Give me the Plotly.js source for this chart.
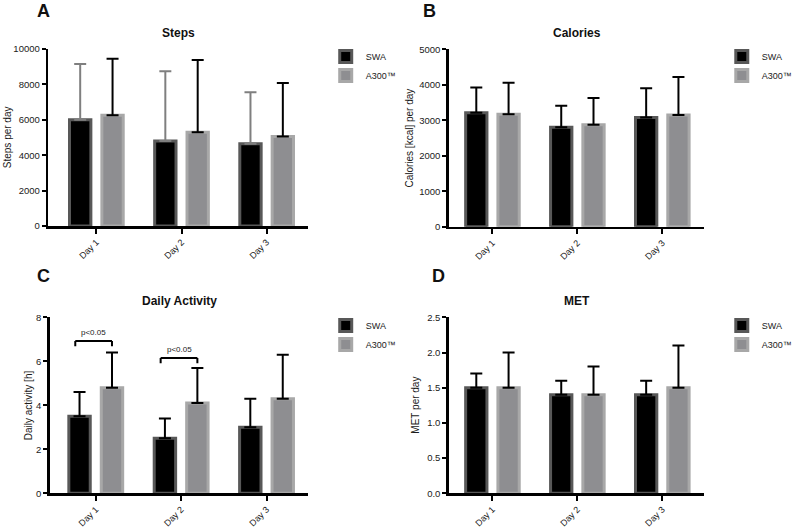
<!DOCTYPE html>
<html>
<head>
<meta charset="utf-8">
<script src="https://cdn.plot.ly/plotly-3.0.1.min.js"></script>
<style>html,body{margin:0;padding:0;background:#fff;}#chart{width:798px;height:527px;}</style>
</head>
<body>
<div id="chart"></div>
<script>
// ---------- data ----------
const days = ['Day 1', 'Day 2', 'Day 3'];
const seriesNames = ['SWA', 'A300™'];

const stepsSWA = [6000, 4800, 4650];
const stepsSWAsd = [3150, 3950, 2900];
const stepsA300 = [6250, 5300, 5050];
const stepsA300sd = [3200, 4080, 3030];

const calSWA = [3210, 2800, 3080];
const calSWAsd = [710, 610, 820];
const calA300 = [3170, 2870, 3150];
const calA300sd = [890, 760, 1070];

const actSWA = [3.5, 2.5, 3.0];
const actSWAsd = [1.1, 0.9, 1.3];
const actA300 = [4.8, 4.1, 4.3];
const actA300sd = [1.6, 1.6, 2.0];

const metSWA = [1.5, 1.4, 1.4];
const metSWAsd = [0.2, 0.2, 0.2];
const metA300 = [1.5, 1.4, 1.5];
const metA300sd = [0.5, 0.4, 0.6];

const panelTitles = ['Steps', 'Calories', 'Daily Activity', 'MET'];
const panelLetters = ['A', 'B', 'C', 'D'];
const yTitles = ['Steps per day', 'Calories [kcal] per day', 'Daily activity [h]', 'MET per day'];
const yTicks = [[0, 2000, 4000, 6000, 8000, 10000], [0, 1000, 2000, 3000, 4000, 5000], [0, 2, 4, 6, 8], [0, 0.5, 1.0, 1.5, 2.0, 2.5]];
const yTickText = [['0', '2000', '4000', '6000', '8000', '10000'], ['0', '1000', '2000', '3000', '4000', '5000'], ['0', '2', '4', '6', '8'], ['0.0', '0.5', '1.0', '1.5', '2.0', '2.5']];

// significance brackets in panel C
const sigDayIndex = [0, 1];
const sigLevel = [6.92, 6.15];
const sigLabel = ['p<0.05', 'p<0.05'];

// ---------- layout helpers ----------
const W = 798, H = 527;
const px = x => x / W;
const py = y => 1 - y / H;

const panels = [
  {means: [stepsSWA, stepsA300], sds: [stepsSWAsd, stepsA300sd], xd: [50, 320], yd: [49, 226], xr: [-0.566, 2.49], yr: [0, 10000], errColors: ['#7f7f7f', '#000'], ytx: 8, leg: [338, 42]},
  {means: [calSWA, calA300], sds: [calSWAsd, calA300sd], xd: [465.7, 731], yd: [49.3, 226.7], xr: [-0.514, 2.496], yr: [0, 5000], errColors: ['#000', '#000'], ytx: 424, leg: [749, 42]},
  {means: [actSWA, actA300], sds: [actSWAsd, actA300sd], xd: [51.7, 320], yd: [317.3, 493.3], xr: [-0.538, 2.49], yr: [0, 8], errColors: ['#000', '#000'], ytx: 29, leg: [338, 311]},
  {means: [metSWA, metA300], sds: [metSWAsd, metA300sd], xd: [465.7, 731], yd: [317.3, 493.3], xr: [-0.514, 2.496], yr: [0, 2.5], errColors: ['#000', '#000'], ytx: 431, leg: [749, 311]}
];

const fills = ['#000000', '#8e8e91'];
const outlines = ['#585858', '#a8a8a8'];
const font = 'Liberation Sans, Arial, sans-serif';

const traces = [];
const layout = {
  width: W, height: H,
  margin: {l: 0, r: 0, t: 0, b: 0},
  paper_bgcolor: '#fff', plot_bgcolor: '#fff',
  font: {family: font, color: '#1a1a1a', size: 9},
  barmode: 'group', bargap: 0.24, bargroupgap: 0.34,
  showlegend: true,
  annotations: [], shapes: []
};

panels.forEach((p, k) => {
  const sfx = k === 0 ? '' : String(k + 1);
  const legName = 'legend' + sfx;
  p.means.forEach((vals, s) => {
    traces.push({
      type: 'bar', x: days, y: vals, name: seriesNames[s],
      xaxis: 'x' + sfx, yaxis: 'y' + sfx, legend: legName,
      marker: {color: fills[s], line: {color: outlines[s], width: 3}},
      error_y: {type: 'data', symmetric: false, array: p.sds[s], arrayminus: vals.map(() => 0), color: p.errColors[s], thickness: 2, width: 6},
      hoverinfo: 'skip'
    });
  });
  layout['xaxis' + sfx] = {
    domain: [px(p.xd[0]), px(p.xd[1])], anchor: 'y' + sfx, range: p.xr,
    type: 'category', showgrid: false, zeroline: false, showline: true, linecolor: '#000', linewidth: 2.5,
    ticks: 'outside', ticklen: 5, tickwidth: 2, tickcolor: '#000', tickangle: -45,
    tickfont: {size: 9, family: font, color: '#1a1a1a'}, fixedrange: true, automargin: false
  };
  layout['yaxis' + sfx] = {
    domain: [py(p.yd[1]), py(p.yd[0])], anchor: 'x' + sfx, range: p.yr,
    showgrid: false, zeroline: false, showline: true, linecolor: '#000', linewidth: 2.5,
    ticks: 'outside', ticklen: 4, tickwidth: 2, tickcolor: '#000',
    tickvals: yTicks[k], ticktext: yTickText[k], tickfont: {size: 9.5, family: font, color: '#1a1a1a'},
    automargin: false, fixedrange: true
  };
  layout[legName] = {
    x: px(p.leg[0]), y: py(p.leg[1]), xanchor: 'left', yanchor: 'top',
    bgcolor: 'rgba(0,0,0,0)', borderwidth: 0, font: {size: 9, family: font, color: '#1a1a1a'},
    itemwidth: 30, tracegroupgap: 0, itemclick: false, itemdoubleclick: false
  };
  // y-axis title (rotated text)
  layout.annotations.push({
    xref: 'paper', yref: 'y' + sfx + ' domain', x: px(p.ytx), y: 0.5,
    xanchor: 'center', yanchor: 'middle', textangle: -90, showarrow: false,
    text: yTitles[k], font: {size: 10, family: font, color: '#1a1a1a'}
  });
  // panel title
  layout.annotations.push({
    xref: 'x' + sfx + ' domain', yref: 'y' + sfx + ' domain', x: 0.5, y: 1,
    yanchor: 'middle', xanchor: 'center', yshift: 16, showarrow: false,
    text: '<b>' + panelTitles[k] + '</b>', font: {size: 12, family: font, color: '#111'}
  });
});

// panel letters
const letterPos = [[45, 11], [446, 11], [45.5, 275.5], [455, 275.5]];
panelLetters.forEach((L, k) => {
  layout.annotations.push({
    xref: 'paper', yref: 'paper', x: px(letterPos[k][0]), y: py(letterPos[k][1]),
    xanchor: 'center', yanchor: 'middle', showarrow: false,
    text: '<b>' + L + '</b>', font: {size: 18, family: font, color: '#111'}
  });
});

// significance brackets (panel C)
sigDayIndex.forEach((d, i) => {
  const x0 = d - 0.24, x1 = d + 0.19, top = sigLevel[i], leg = sigLevel[i] - 0.24;
  const ln = {color: '#000', width: 2};
  layout.shapes.push({type: 'line', xref: 'x3', yref: 'y3', x0: x0, x1: x1, y0: top, y1: top, line: ln});
  layout.shapes.push({type: 'line', xref: 'x3', yref: 'y3', x0: x0, x1: x0, y0: top, y1: leg, line: ln});
  layout.shapes.push({type: 'line', xref: 'x3', yref: 'y3', x0: x1, x1: x1, y0: top, y1: leg, line: ln});
  layout.annotations.push({
    xref: 'x3', yref: 'y3', x: (x0 + x1) / 2, y: top, yanchor: 'bottom', xanchor: 'center', yshift: 2,
    showarrow: false, text: sigLabel[i], font: {size: 8, family: font, color: '#1a1a1a'}
  });
});

Plotly.newPlot('chart', traces, layout, {displayModeBar: false, staticPlot: true});
</script>
</body>
</html>
